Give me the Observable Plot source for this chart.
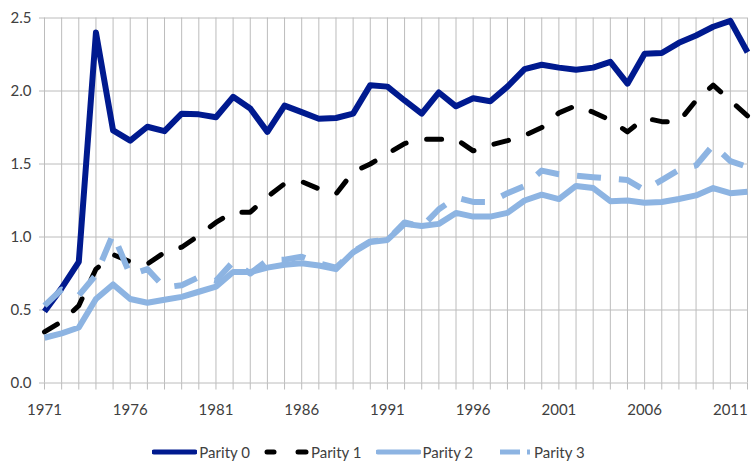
<!DOCTYPE html>
<html>
<head>
<meta charset="utf-8">
<script src="https://cdn.jsdelivr.net/npm/d3@7"></script>
<script src="https://cdn.jsdelivr.net/npm/@observablehq/plot@0.6"></script>
<style>
  html, body { margin: 0; padding: 0; background: #fff; }
  body { width: 751px; height: 462px; overflow: hidden; font-family: Lato, "Open Sans", sans-serif; }
  #legend { display: flex; justify-content: center; align-items: center; height: 20px; margin-top: 17px; padding-right: 14px; font-size: 15px; color: #404040; }
  .item { display: flex; align-items: center; margin: 0 7px; }
  .item svg { margin-right: 2px; }
</style>
</head>
<body>
<div id="chart"></div>
<div id="legend"></div>
<script>
const years = [1971,1972,1973,1974,1975,1976,1977,1978,1979,1980,1981,1982,1983,1984,1985,1986,1987,1988,1989,1990,1991,1992,1993,1994,1995,1996,1997,1998,1999,2000,2001,2002,2003,2004,2005,2006,2007,2008,2009,2010,2011,2012];
const labelYears = [1971,1976,1981,1986,1991,1996,2001,2006,2011];
const yTicks = [0, 0.5, 1.0, 1.5, 2.0, 2.5];
const seriesNames = ["Parity 0", "Parity 1", "Parity 2", "Parity 3"];
const parity0 = [0.49,0.65,0.83,2.40,1.73,1.66,1.755,1.725,1.845,1.84,1.82,1.96,1.88,1.72,1.90,1.855,1.81,1.815,1.845,2.04,2.03,1.935,1.845,1.99,1.895,1.95,1.93,2.03,2.15,2.18,2.16,2.145,2.16,2.20,2.05,2.255,2.26,2.33,2.38,2.44,2.48,2.265];
const parity1 = [0.35,0.42,0.53,0.78,0.88,0.83,0.815,0.895,0.93,1.01,1.10,1.17,1.17,1.275,1.365,1.38,1.33,1.295,1.445,1.50,1.57,1.64,1.67,1.67,1.67,1.59,1.63,1.66,1.695,1.75,1.85,1.90,1.855,1.80,1.72,1.815,1.79,1.79,1.935,2.04,1.935,1.83];
const parity2 = [0.31,0.34,0.38,0.575,0.675,0.575,0.55,0.57,0.59,0.625,0.66,0.76,0.76,0.79,0.81,0.82,0.805,0.78,0.895,0.965,0.98,1.09,1.075,1.09,1.165,1.14,1.14,1.165,1.25,1.29,1.26,1.35,1.335,1.245,1.25,1.235,1.24,1.26,1.285,1.335,1.30,1.31];
const parity3 = [0.53,0.64,0.60,0.74,1.02,0.74,0.78,0.655,0.67,0.725,0.70,0.83,0.75,0.84,0.845,0.865,0.82,0.79,0.90,0.97,0.98,1.10,1.07,1.19,1.27,1.24,1.24,1.30,1.35,1.455,1.43,1.42,1.41,1.40,1.39,1.32,1.39,1.46,1.49,1.63,1.52,1.48];

const allSeries = [parity0, parity1, parity2, parity3];
const styles = [
  {stroke: "#001a8f", strokeWidth: 6, strokeLinecap: "butt", strokeDasharray: null},
  {stroke: "#000000", strokeWidth: 5, strokeLinecap: "round", strokeDasharray: "15,21"},
  {stroke: "#8db4e2", strokeWidth: 6, strokeLinecap: "butt", strokeDasharray: null},
  {stroke: "#8db4e2", strokeWidth: 6, strokeLinecap: "butt", strokeDasharray: "24,18"}
];

const grid = "#bcbcbc";
const lineMarks = allSeries.map((vals, i) => {
  const data = years.map((yr, j) => ({year: yr, value: vals[j]}));
  const s = styles[i];
  const opts = {x: "year", y: "value", stroke: s.stroke, strokeWidth: s.strokeWidth, strokeLinecap: s.strokeLinecap, strokeLinejoin: "round"};
  if (s.strokeDasharray) opts.strokeDasharray = s.strokeDasharray;
  return Plot.line(data, opts);
});

const chart = Plot.plot({
  width: 751,
  height: 425,
  marginLeft: 44,
  marginRight: 4,
  marginTop: 17.5,
  marginBottom: 42.5,
  style: {fontFamily: "Lato, 'Open Sans', sans-serif", fontSize: "15px", color: "#404040", background: "#fff"},
  x: {domain: [1971, 2012], type: "linear", label: null},
  y: {domain: [0, 2.5], label: null},
  marks: [
    Plot.gridX(years, {stroke: grid, strokeOpacity: 1, strokeWidth: 1}),
    Plot.gridY(yTicks, {stroke: grid, strokeOpacity: 1, strokeWidth: 1}),
    Plot.axisX(years, {tickSize: 7, stroke: grid, tickFormat: () => "", strokeOpacity: 1, label: null}),
    Plot.axisX(labelYears, {tickSize: 0, tickPadding: 21, tickFormat: d => String(d), fill: "#404040", fontSize: 15, label: null}),
    Plot.axisY(yTicks, {tickSize: 5, tickPadding: 8, stroke: grid, strokeOpacity: 1, tickFormat: d3.format(".1f"), fill: "#404040", fontSize: 15, label: null}),
    ...lineMarks
  ]
});
document.getElementById("chart").appendChild(chart);

// Legend
const legend = document.getElementById("legend");
const ns = "http://www.w3.org/2000/svg";
const swatchSegs = [
  [[2, 43]],
  [[3, 10], [34, 42]],
  [[2, 43]],
  [[13, 33], [40, 43]]
];
seriesNames.forEach((name, i) => {
  const item = document.createElement("div");
  item.className = "item";
  const svg = document.createElementNS(ns, "svg");
  svg.setAttribute("width", 45);
  svg.setAttribute("height", 12);
  const s = styles[i];
  swatchSegs[i].forEach(([a, b]) => {
    const l = document.createElementNS(ns, "line");
    l.setAttribute("x1", a); l.setAttribute("x2", b);
    l.setAttribute("y1", 6); l.setAttribute("y2", 6);
    l.setAttribute("stroke", s.stroke);
    l.setAttribute("stroke-width", 5);
    l.setAttribute("stroke-linecap", i === 3 ? "butt" : "round");
    svg.appendChild(l);
  });
  item.appendChild(svg);
  const t = document.createElement("span");
  t.textContent = name;
  item.appendChild(t);
  legend.appendChild(item);
});
</script>
</body>
</html>
